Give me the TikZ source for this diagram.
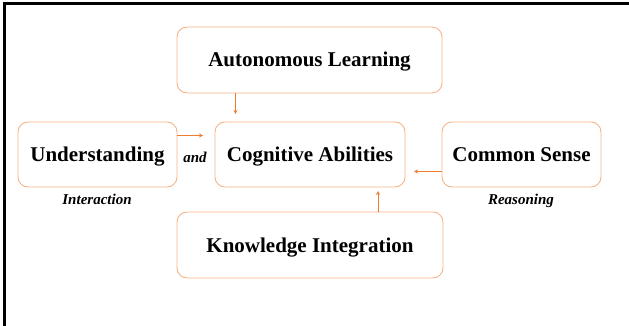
\documentclass[tikz,border=0pt]{standalone}
\usepackage{fontspec}
\setmainfont{Liberation Serif}
\usetikzlibrary{arrows.meta}
\definecolor{boxorange}{RGB}{246,180,136}
\definecolor{arrorange}{RGB}{237,125,49}
\tikzset{
  box/.style={draw=boxorange, line width=0.9pt, rounded corners=10pt, fill=white,
    font=\bfseries\fontsize{21}{24}\selectfont, text height=14pt, text depth=0pt,
    inner sep=0pt, align=center},
  conn/.style={draw=arrorange, line width=1pt, -{Stealth[length=4pt,width=4pt]}},
  lbl/.style={font=\bfseries\itshape\fontsize{15}{18}\selectfont, inner sep=0pt, anchor=base},
  frame/.style={line width=2.6pt, black}
}
\begin{document}
\begin{tikzpicture}[x=1pt,y=-1pt]
\useasboundingbox (0,0) rectangle (629,326);
% frame
\draw[frame] (4.5,326) -- (4.5,3.5) -- (629,3.5);
% boxes
\node[box, minimum width=265pt, minimum height=66pt] (al) at (309.5,60) {Autonomous Learning};
\node[box, minimum width=159pt, minimum height=65pt] (un) at (97.5,154.5) {Understanding};
\node[box, minimum width=190pt, minimum height=65pt] (ca) at (310,154.5) {Cognitive Abilities};
\node[box, minimum width=159pt, minimum height=65pt] (cs) at (521.5,154.5) {Common Sense};
\node[box, minimum width=266pt, minimum height=66pt] (ki) at (310,245) {Knowledge Integration};
% labels
\node[lbl] (and) at (195,162) {and};
\node[lbl] (int) at (97,204) {Interaction};
\node[lbl] (rea) at (521,204) {Reasoning};
% connector end points
\coordinate (alEnd) at (235.5,114);
\coordinate (unEnd) at (203,135.5);
\coordinate (csEnd) at (414,171.5);
\coordinate (kiEnd) at (378,191);
% connectors
\draw[conn] (al.south -| alEnd) -- (alEnd);
\draw[conn] (un.east |- unEnd) -- (unEnd);
\draw[conn] (cs.west |- csEnd) -- (csEnd);
\draw[conn] (ki.north -| kiEnd) -- (kiEnd);
\end{tikzpicture}
\end{document}
